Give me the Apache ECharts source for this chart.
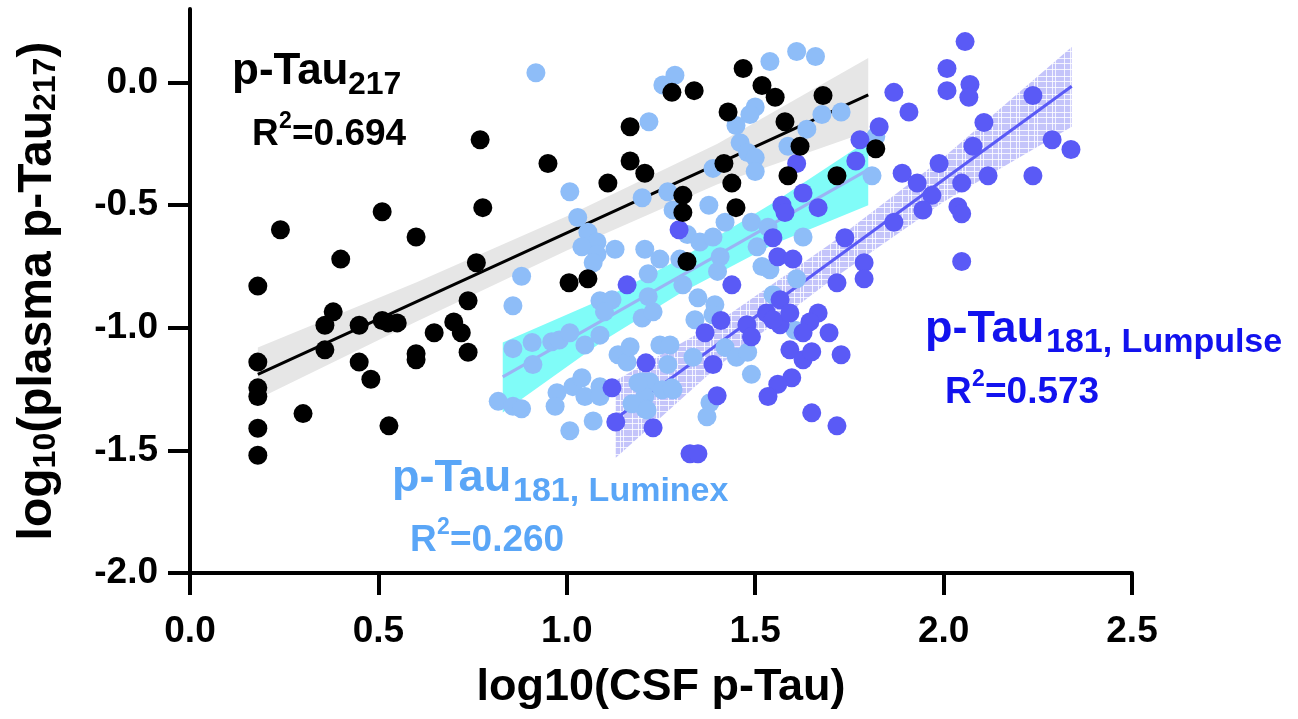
<!DOCTYPE html>
<html><head><meta charset="utf-8">
<script src="https://cdn.jsdelivr.net/npm/echarts@6/dist/echarts.min.js"></script>
<style>html,body{margin:0;padding:0;background:#fff}#c{width:1298px;height:719px}</style>
</head><body><div id="c"></div>
<script>
// ---------- DATA ----------
var xTicks = [0, 0.5, 1.0, 1.5, 2.0, 2.5];
var yTicks = [-2.0, -1.5, -1.0, -0.5, 0.0];

var pTau217 = [
[0.77,-0.233],[0.777,-0.51],[0.51,-0.527],[0.24,-0.60],[0.60,-0.63],[0.40,-0.72],[0.18,-0.83],[0.76,-0.735],
[0.38,-0.935],[0.358,-0.99],[0.449,-0.99],[0.51,-0.97],[0.526,-0.98],[0.55,-0.98],[0.738,-0.89],[0.70,-0.976],
[0.72,-1.02],[0.648,-1.02],[0.738,-1.10],[0.60,-1.106],[0.60,-1.13],[0.358,-1.09],[0.449,-1.14],[0.48,-1.21],
[0.18,-1.14],[0.18,-1.245],[0.18,-1.28],[0.30,-1.35],[0.528,-1.40],[0.18,-1.41],[0.18,-1.52],
[0.95,-0.33],[1.109,-0.41],[1.168,-0.18],[1.168,-0.32],[1.207,-0.37],[1.279,-0.04],[1.338,-0.033],[1.308,-0.46],
[1.308,-0.53],[1.319,-0.73],[1.428,-0.12],[1.468,0.057],[1.518,-0.012],[1.553,-0.06],[1.417,-0.33],[1.438,-0.41],
[1.449,-0.51],[1.006,-0.816],[1.056,-0.80],[1.68,-0.053],[1.579,-0.16],[1.619,-0.26],[1.587,-0.38],[1.717,-0.38],[1.82,-0.27]
];

var pTau181Luminex = [
[0.918,0.04],[1.287,0.03],[1.255,-0.01],[1.539,0.086],[1.218,-0.16],[1.50,-0.10],[1.486,-0.13],[1.449,-0.175],
[1.46,-0.245],[1.48,-0.285],[1.50,-0.306],[1.50,-0.363],[1.388,-0.35],[1.008,-0.445],[1.20,-0.47],[1.268,-0.445],
[1.282,-0.52],[1.377,-0.50],[1.42,-0.57],[1.029,-0.55],[1.056,-0.61],[1.08,-0.65],[1.04,-0.67],[1.08,-0.70],
[1.07,-0.735],[1.128,-0.68],[1.207,-0.68],[1.247,-0.72],[1.30,-0.72],[1.32,-0.62],[1.353,-0.65],[1.388,-0.63],
[1.407,-0.71],[1.49,-0.57],[1.534,-0.59],[1.505,-0.67],[1.518,-0.75],[0.88,-0.79],[1.216,-0.78],[1.40,-0.77],
[0.857,-0.91],[0.857,-1.085],[0.908,-1.06],[0.91,-1.15],[0.96,-1.057],[0.98,-1.05],[1.008,-1.02],[1.048,-1.07],
[1.088,-1.03],[1.088,-0.89],[1.12,-0.886],[1.10,-0.935],[1.20,-0.96],[1.229,-0.935],[1.216,-0.873],[1.308,-0.825],
[1.348,-0.878],[1.393,-0.906],[1.34,-0.967],[1.388,-0.947],
[0.818,-1.30],[0.857,-1.32],[0.88,-1.33],[0.974,-1.265],[0.969,-1.32],[1.016,-1.24],[1.04,-1.204],[1.048,-1.28],
[1.088,-1.24],[1.088,-1.28],[1.008,-1.42],[1.07,-1.38],[1.136,-1.11],[1.16,-1.14],[1.168,-1.077],[1.247,-1.07],
[1.274,-1.07],[1.268,-1.15],[1.335,-1.12],[1.20,-1.22],[1.22,-1.22],[1.207,-1.28],[1.207,-1.33],[1.173,-1.31],
[1.253,-1.253],[1.282,-1.253],[1.42,-1.08],[1.45,-1.12],[1.48,-1.10],[1.49,-1.19],[1.38,-1.306],[1.372,-1.363],
[1.539,-0.763],[1.61,0.127],[1.66,0.106],[1.677,-0.13],[1.728,-0.12],[1.637,-0.19],[1.587,-0.26],[1.81,-0.38],
[1.627,-0.63],[1.82,-0.22],[1.547,-0.865],[1.61,-0.80],[1.606,-1.01],[1.189,-1.224],[1.279,-1.245],[1.213,-1.335]
];

var pTau181Lumpulse = [
[2.057,0.167],[2.009,0.057],[2.07,-0.008],[2.009,-0.033],[2.067,-0.06],[1.868,-0.04],[1.908,-0.12],[2.237,-0.053],
[2.107,-0.163],[1.829,-0.18],[1.778,-0.233],[2.288,-0.233],[2.338,-0.273],[2.078,-0.26],[1.767,-0.32],[1.61,-0.33],
[1.988,-0.33],[1.89,-0.37],[1.93,-0.41],[2.048,-0.41],[2.118,-0.38],[2.237,-0.38],[1.969,-0.46],[1.945,-0.52],
[2.038,-0.506],[2.048,-0.535],[1.627,-0.45],[1.667,-0.51],[1.571,-0.50],[1.579,-0.53],[1.868,-0.57],[1.738,-0.633],
[1.547,-0.633],[1.56,-0.71],[1.60,-0.72],[1.789,-0.735],[2.048,-0.73],
[1.789,-0.80],[1.717,-0.816],[1.566,-0.886],[1.53,-0.94],[1.566,-0.988],[1.592,-0.94],[1.667,-0.94],[1.645,-0.976],
[1.627,-1.02],[1.696,-1.02],[1.592,-1.09],[1.627,-1.13],[1.65,-1.098],[1.728,-1.11],[1.597,-1.204],[1.56,-1.23],
[1.534,-1.28],[1.65,-1.347],[1.717,-1.40],[1.547,-0.967],
[1.16,-0.825],[1.438,-0.825],[1.409,-0.97],[1.367,-1.02],[1.478,-0.988],[1.49,-1.037],[1.388,-1.15],[1.21,-1.143],
[1.12,-1.245],[1.13,-1.384],[1.229,-1.408],[1.399,-1.277],[1.327,-1.514],[1.348,-1.514],[1.298,-0.60]
];

// regression lines (endpoints) and confidence bands
var fit217 = [[0.18,-1.19],[1.8,-0.05]];
var band217X = [0.18, 0.6, 1.0, 1.4, 1.8];
var band217Hi = [-1.08, -0.815, -0.545, -0.25, 0.10];
var band217Lo = [-1.29, -0.975, -0.685, -0.415, -0.20];

var fitLuminex = [[0.83,-1.20],[1.8,-0.355]];
var bandLuminexX = [0.83, 1.1, 1.3, 1.55, 1.8];
var bandLuminexHi = [-1.06, -0.88, -0.72, -0.488, -0.235];
var bandLuminexLo = [-1.345, -1.05, -0.86, -0.658, -0.50];

var fitLumpulse = [[1.13,-1.37],[2.34,-0.015]];
var bandLumpulseX = [1.13, 1.4, 1.7, 2.0, 2.34];
var bandLumpulseHi = [-1.215, -0.978, -0.657, -0.306, 0.145];
var bandLumpulseLo = [-1.53, -1.158, -0.807, -0.486, -0.18];

// ---------- STYLE ----------
var FONT = '"Liberation Sans", Arial, Helvetica, sans-serif';
var C_BLACK = '#000000', C_LUMINEX = '#8ebdf8', C_LUMPULSE = '#5a5af6';
var C_TXT_LUMINEX = '#5aa6f7', C_TXT_LUMPULSE = '#1212ee';

function hatch() {
  var cv = document.createElement('canvas');
  cv.width = 18; cv.height = 18;
  var g = cv.getContext('2d');
  g.fillStyle = '#c4c4fa'; g.fillRect(0, 0, 18, 18);
  g.strokeStyle = 'rgba(255,255,255,0.8)'; g.lineWidth = 1;
  [2.5, 8.5, 11.5].forEach(function (p) {
    g.beginPath(); g.moveTo(p, 0); g.lineTo(p, 18); g.stroke();
  });
  [4.5, 9.5, 15.5].forEach(function (p) {
    g.beginPath(); g.moveTo(0, p); g.lineTo(18, p); g.stroke();
  });
  return cv;
}

function bandSeries(xs, hi, lo, fill, z) {
  return {
    type: 'custom', z: z, silent: true,
    data: [0],
    renderItem: function (params, api) {
      var pts = [];
      for (var i = 0; i < xs.length; i++) pts.push(api.coord([xs[i], hi[i]]));
      for (var j = xs.length - 1; j >= 0; j--) pts.push(api.coord([xs[j], lo[j]]));
      return { type: 'polygon', shape: { points: pts }, style: { fill: fill, stroke: null } };
    }
  };
}
function lineSeries(d, color, w, z) {
  return { type: 'line', data: d, z: z, symbol: 'none', silent: true,
           lineStyle: { color: color, width: w }, animation: false };
}
function dotSeries(d, color, z) {
  return { type: 'scatter', data: d, z: z, symbolSize: 19,
           itemStyle: { color: color, opacity: 1 }, animation: false };
}

// annotation pieces: text, left x, baseline y, size, colour
var labels = [
  ['p-Tau', 232, 87, 44, C_BLACK], ['217', 348, 96, 32, C_BLACK],
  ['R', 252, 148, 37, C_BLACK], ['2', 279, 130, 23, C_BLACK], ['=0.694', 292, 148, 37, C_BLACK],
  ['p-Tau', 392, 494, 45, C_TXT_LUMINEX], ['181, Luminex', 513, 504, 34, C_TXT_LUMINEX],
  ['R', 410, 554, 37, C_TXT_LUMINEX], ['2', 437, 536, 23, C_TXT_LUMINEX], ['=0.260', 450, 554, 37, C_TXT_LUMINEX],
  ['p-Tau', 925, 345, 45, C_TXT_LUMPULSE], ['181, Lumpulse', 1046, 355, 34, C_TXT_LUMPULSE],
  ['R', 945, 406, 37, C_TXT_LUMPULSE], ['2', 972, 388, 23, C_TXT_LUMPULSE], ['=0.573', 985, 406, 37, C_TXT_LUMPULSE]
];
var graphics = labels.map(function (l) {
  return { type: 'text', x: l[1], y: l[2] - 0.35 * l[3], z: 100, silent: true,
           style: { text: l[0], fill: l[4], font: 'bold ' + l[3] + 'px ' + FONT,
                    align: 'left', verticalAlign: 'middle' } };
});

var chart = echarts.init(document.getElementById('c'), null, { renderer: 'canvas' });
chart.setOption({
  animation: false,
  backgroundColor: '#ffffff',
  grid: { left: 190, right: 166, top: 9, bottom: 146 },
  xAxis: {
    type: 'value', min: 0, max: 2.5, interval: 0.5,
    splitLine: { show: false },
    axisLine: { show: true, onZero: false, lineStyle: { color: '#000', width: 4 } },
    axisTick: { show: true, length: 22, lineStyle: { color: '#000', width: 4 } },
    axisLabel: { color: '#000', fontFamily: FONT, fontWeight: 'bold', fontSize: 37, margin: 40,
                 formatter: function (v) { return v.toFixed(1); } },
    name: 'log10(CSF p-Tau)', nameLocation: 'middle', nameGap: 92,
    nameTextStyle: { color: '#000', fontFamily: FONT, fontWeight: 'bold', fontSize: 45 }
  },
  yAxis: {
    type: 'value', min: -2, max: 0.3, interval: 0.5,
    splitLine: { show: false },
    axisLine: { show: true, onZero: false, lineStyle: { color: '#000', width: 4 } },
    axisTick: { show: true, length: 22, customValues: yTicks, lineStyle: { color: '#000', width: 4 } },
    axisLabel: { color: '#000', fontFamily: FONT, fontWeight: 'bold', fontSize: 37, margin: 32,
                 customValues: yTicks,
                 formatter: function (v) { return (Math.abs(v) < 1e-9 ? 0 : v).toFixed(1); } },
    name: '{m|log}{s|10}{m|(plasma p-Tau}{s|217}{m|)}', nameLocation: 'middle', nameGap: 128,
    nameTextStyle: {
      color: '#000', fontFamily: FONT, fontWeight: 'bold', fontSize: 48,
      rich: {
        m: { fontFamily: FONT, fontWeight: 'bold', fontSize: 48, lineHeight: 46, verticalAlign: 'bottom', color: '#000' },
        s: { fontFamily: FONT, fontWeight: 'bold', fontSize: 32, lineHeight: 16, verticalAlign: 'bottom', color: '#000' }
      }
    }
  },
  series: [
    bandSeries(band217X, band217Hi, band217Lo, '#e6e6e6', 1),
    bandSeries(bandLuminexX, bandLuminexHi, bandLuminexLo, '#80fcf8', 2),
    bandSeries(bandLumpulseX, bandLumpulseHi, bandLumpulseLo, { image: hatch(), repeat: 'repeat' }, 3),
    lineSeries(fit217, '#000000', 3, 4),
    lineSeries(fitLuminex, '#9ab4f4', 3, 4),
    lineSeries(fitLumpulse, '#5a5af6', 3, 4),
    dotSeries(pTau181Luminex, C_LUMINEX, 5),
    dotSeries(pTau181Lumpulse, C_LUMPULSE, 6),
    dotSeries(pTau217, C_BLACK, 7)
  ],
  graphic: graphics
});
</script>
</body></html>
